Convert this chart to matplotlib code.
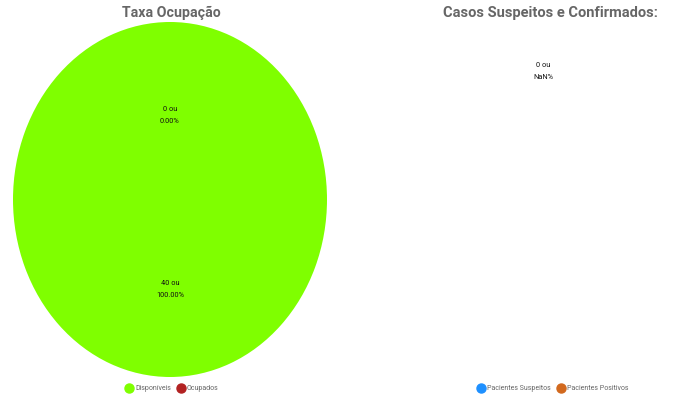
import numpy as np
import matplotlib
matplotlib.use("Agg")
import matplotlib.pyplot as plt
from matplotlib.lines import Line2D

plt.rcParams['font.family'] = ['Roboto', 'DejaVu Sans']

# Data
occ_labels = ["Disponíveis", "Ocupados"]
occ_values = [40, 0]
occ_colors = ["#7FFF00", "#B22222"]

case_labels = ["Pacientes Suspeitos", "Pacientes Positivos"]
case_values = [0, 0]
case_colors = ["#1E90FF", "#D2691E"]

W, H = 673, 400
fig = plt.figure(figsize=(W / 100, H / 100), dpi=100)

def px_axes(x0, y0, x1, y1):
    return fig.add_axes([x0 / W, 1 - y1 / H, (x1 - x0) / W, (y1 - y0) / H])

def fmt_label(v, total):
    pct = "NaN" if total == 0 else f"{100 * v / total:.2f}"
    return f"{v} ou\n{pct}%"

LBL = dict(ha='center', va='center', fontsize=5.3, color='#111111',
           linespacing=2.0)

def draw_labels(ax, values, rfrac=0.49):
    total = sum(values)
    start = 0.0
    for v in values:
        frac = (v / total) if total else 0.0
        mid = start + frac / 2
        ang = np.pi / 2 - 2 * np.pi * mid
        ax.text(rfrac * np.cos(ang), rfrac * np.sin(ang) - 0.018,
                fmt_label(v, total), **LBL)
        start += frac

# Left pie
ax1 = px_axes(13, 22, 327, 377)
ax1.pie(occ_values, colors=occ_colors, startangle=90, counterclock=False,
        radius=1, wedgeprops=dict(linewidth=0))
ax1.set_aspect('auto')
ax1.set_xlim(-1, 1)
ax1.set_ylim(-1, 1)
draw_labels(ax1, occ_values)
ax1.axis('off')
fig.text(171 / W, 1 - 13 / H, "Taxa Ocupação", ha='center', va='center',
         fontsize=10.2, fontweight='bold', color='#666666')

# Right pie (no data)
ax2 = px_axes(393, 22, 707, 377)
ax2.set_xlim(-1, 1)
ax2.set_ylim(-1, 1)
ax2.axis('off')
ax2.text(-0.045, 0.72, fmt_label(case_values[0], sum(case_values)), **LBL)
fig.text(550 / W, 1 - 13 / H, "Casos Suspeitos e Confirmados:", ha='center',
         va='center', fontsize=10.5, fontweight='bold', color='#666666')

def legend(labels, colors, cx):
    handles = [Line2D([], [], marker='o', linestyle='', markersize=6.5,
                      markerfacecolor=c, markeredgecolor=c) for c in colors]
    fig.legend(handles, labels, loc='center', bbox_to_anchor=(cx / W, 1 - 389 / H),
               ncol=len(labels), frameon=False, fontsize=5, labelcolor='#666666',
               handletextpad=0.4, columnspacing=0.9, handlelength=1.0)

legend(occ_labels, occ_colors, 172)
legend(case_labels, case_colors, 553)

fig.savefig("out.png", dpi=100)
